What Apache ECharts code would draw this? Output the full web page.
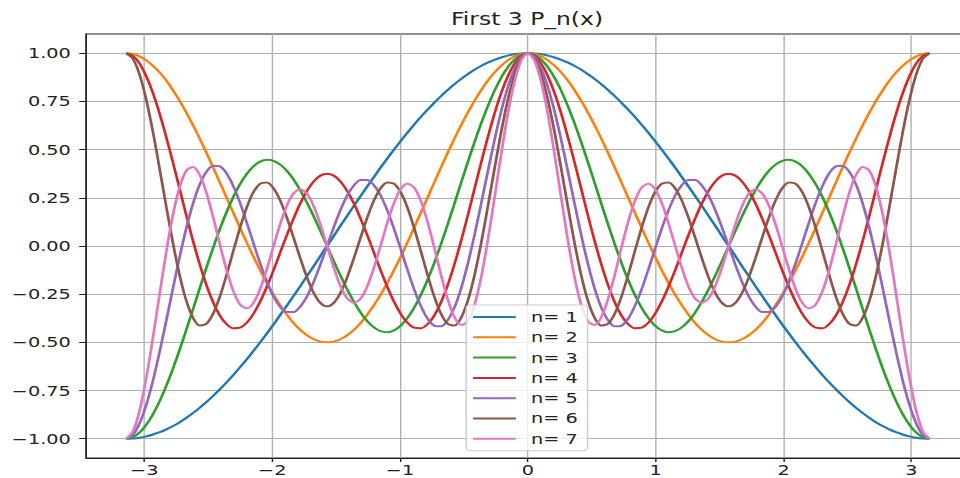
<!DOCTYPE html>
<html>
<head>
<meta charset="utf-8">
<script src="https://cdn.jsdelivr.net/npm/echarts@6/dist/echarts.min.js"></script>
<style>
  html, body { margin: 0; padding: 0; background: #fff; overflow: hidden; width: 960px; height: 478px; }
  /* the reference picture is stretched sideways, so draw narrow and stretch */
  #main { width: 703px; height: 478px; transform: scaleX(1.37931); transform-origin: 0 0; }
</style>
</head>
<body>
<div id="main"></div>
<script>
// x = -pi .. pi
var xValues = [
  -3.1416, -3.0892, -3.0369, -2.9845, -2.9322, -2.8798, -2.8274, -2.7751, -2.7227, -2.6704,
  -2.6180, -2.5656, -2.5133, -2.4609, -2.4086, -2.3562, -2.3038, -2.2515, -2.1991, -2.1468,
  -2.0944, -2.0420, -1.9897, -1.9373, -1.8850, -1.8326, -1.7802, -1.7279, -1.6755, -1.6232,
  -1.5708, -1.5184, -1.4661, -1.4137, -1.3614, -1.3090, -1.2566, -1.2043, -1.1519, -1.0996,
  -1.0472, -0.9948, -0.9425, -0.8901, -0.8378, -0.7854, -0.7330, -0.6807, -0.6283, -0.5760,
  -0.5236, -0.4712, -0.4189, -0.3665, -0.3142, -0.2618, -0.2094, -0.1571, -0.1047, -0.0524,
  0, 0.0524, 0.1047, 0.1571, 0.2094, 0.2618, 0.3142, 0.3665, 0.4189, 0.4712,
  0.5236, 0.5760, 0.6283, 0.6807, 0.7330, 0.7854, 0.8378, 0.8901, 0.9425, 0.9948,
  1.0472, 1.0996, 1.1519, 1.2043, 1.2566, 1.3090, 1.3614, 1.4137, 1.4661, 1.5184,
  1.5708, 1.6232, 1.6755, 1.7279, 1.7802, 1.8326, 1.8850, 1.9373, 1.9897, 2.0420,
  2.0944, 2.1468, 2.1991, 2.2515, 2.3038, 2.3562, 2.4086, 2.4609, 2.5133, 2.5656,
  2.6180, 2.6704, 2.7227, 2.7751, 2.8274, 2.8798, 2.9322, 2.9845, 3.0369, 3.0892, 3.1416
];

var p1 = [
  -1, -0.999, -0.995, -0.988, -0.978, -0.966, -0.951, -0.934, -0.914, -0.891, -0.866, -0.839, -0.809, -0.777, -0.743, -0.707, -0.669, -0.629, -0.588, -0.545, -0.5, -0.454, -0.407, -0.358, -0.309, -0.259, -0.208, -0.156, -0.105, -0.052,
  0, 0.052, 0.105, 0.156, 0.208, 0.259, 0.309, 0.358, 0.407, 0.454, 0.5, 0.545, 0.588, 0.629, 0.669, 0.707, 0.743, 0.777, 0.809, 0.839, 0.866, 0.891, 0.914, 0.934, 0.951, 0.966, 0.978, 0.988, 0.995, 0.999,
  1, 0.999, 0.995, 0.988, 0.978, 0.966, 0.951, 0.934, 0.914, 0.891, 0.866, 0.839, 0.809, 0.777, 0.743, 0.707, 0.669, 0.629, 0.588, 0.545, 0.5, 0.454, 0.407, 0.358, 0.309, 0.259, 0.208, 0.156, 0.105, 0.052,
  0, -0.052, -0.105, -0.156, -0.208, -0.259, -0.309, -0.358, -0.407, -0.454, -0.5, -0.545, -0.588, -0.629, -0.669, -0.707, -0.743, -0.777, -0.809, -0.839, -0.866, -0.891, -0.914, -0.934, -0.951, -0.966, -0.978, -0.988, -0.995, -0.999, -1
];
var p2 = [
  1, 0.996, 0.984, 0.963, 0.935, 0.900, 0.857, 0.807, 0.752, 0.691, 0.625, 0.555, 0.482, 0.406, 0.328, 0.25, 0.172, 0.094, 0.018, -0.055, -0.125, -0.191, -0.252, -0.307, -0.357, -0.400, -0.435, -0.463, -0.484, -0.496,
  -0.5, -0.496, -0.484, -0.463, -0.435, -0.400, -0.357, -0.307, -0.252, -0.191, -0.125, -0.055, 0.018, 0.094, 0.172, 0.25, 0.328, 0.406, 0.482, 0.555, 0.625, 0.691, 0.752, 0.807, 0.857, 0.900, 0.935, 0.963, 0.984, 0.996,
  1, 0.996, 0.984, 0.963, 0.935, 0.900, 0.857, 0.807, 0.752, 0.691, 0.625, 0.555, 0.482, 0.406, 0.328, 0.25, 0.172, 0.094, 0.018, -0.055, -0.125, -0.191, -0.252, -0.307, -0.357, -0.400, -0.435, -0.463, -0.484, -0.496,
  -0.5, -0.496, -0.484, -0.463, -0.435, -0.400, -0.357, -0.307, -0.252, -0.191, -0.125, -0.055, 0.018, 0.094, 0.172, 0.25, 0.328, 0.406, 0.482, 0.555, 0.625, 0.691, 0.752, 0.807, 0.857, 0.900, 0.935, 0.963, 0.984, 0.996, 1
];
var p3 = [
  -1, -0.992, -0.967, -0.927, -0.872, -0.804, -0.724, -0.634, -0.536, -0.432, -0.325, -0.217, -0.110, -0.008, 0.089, 0.177, 0.255, 0.321, 0.374, 0.413, 0.438, 0.447, 0.442, 0.422, 0.390, 0.345, 0.289, 0.225, 0.154, 0.078,
  0, -0.078, -0.154, -0.225, -0.289, -0.345, -0.390, -0.422, -0.442, -0.447, -0.438, -0.413, -0.374, -0.321, -0.255, -0.177, -0.089, 0.008, 0.110, 0.217, 0.325, 0.432, 0.536, 0.634, 0.724, 0.804, 0.872, 0.927, 0.967, 0.992,
  1, 0.992, 0.967, 0.927, 0.872, 0.804, 0.724, 0.634, 0.536, 0.432, 0.325, 0.217, 0.110, 0.008, -0.089, -0.177, -0.255, -0.321, -0.374, -0.413, -0.438, -0.447, -0.442, -0.422, -0.390, -0.345, -0.289, -0.225, -0.154, -0.078,
  0, 0.078, 0.154, 0.225, 0.289, 0.345, 0.390, 0.422, 0.442, 0.447, 0.438, 0.413, 0.374, 0.321, 0.255, 0.177, 0.089, -0.008, -0.110, -0.217, -0.325, -0.432, -0.536, -0.634, -0.724, -0.804, -0.872, -0.927, -0.967, -0.992, -1
];
var p4 = [
  1, 0.986, 0.946, 0.880, 0.792, 0.685, 0.562, 0.430, 0.293, 0.155, 0.023, -0.098, -0.205, -0.294, -0.362, -0.406, -0.427, -0.424, -0.398, -0.352, -0.289, -0.212, -0.126, -0.034, 0.057, 0.143, 0.221, 0.286, 0.335, 0.365,
  0.375, 0.365, 0.335, 0.286, 0.221, 0.143, 0.057, -0.034, -0.126, -0.212, -0.289, -0.352, -0.398, -0.424, -0.427, -0.406, -0.362, -0.294, -0.205, -0.098, 0.023, 0.155, 0.293, 0.430, 0.562, 0.685, 0.792, 0.880, 0.946, 0.986,
  1, 0.986, 0.946, 0.880, 0.792, 0.685, 0.562, 0.430, 0.293, 0.155, 0.023, -0.098, -0.205, -0.294, -0.362, -0.406, -0.427, -0.424, -0.398, -0.352, -0.289, -0.212, -0.126, -0.034, 0.057, 0.143, 0.221, 0.286, 0.335, 0.365,
  0.375, 0.365, 0.335, 0.286, 0.221, 0.143, 0.057, -0.034, -0.126, -0.212, -0.289, -0.352, -0.398, -0.424, -0.427, -0.406, -0.362, -0.294, -0.205, -0.098, 0.023, 0.155, 0.293, 0.430, 0.562, 0.685, 0.792, 0.880, 0.946, 0.986, 1
];
var p5 = [
  -1, -0.980, -0.919, -0.823, -0.697, -0.547, -0.384, -0.216, -0.053, 0.096, 0.223, 0.322, 0.387, 0.417, 0.413, 0.376, 0.310, 0.224, 0.122, 0.015, -0.090, -0.184, -0.262, -0.316, -0.343, -0.343, -0.314, -0.261, -0.186, -0.097,
  0, 0.097, 0.186, 0.261, 0.314, 0.343, 0.343, 0.316, 0.262, 0.184, 0.090, -0.015, -0.122, -0.224, -0.310, -0.376, -0.413, -0.417, -0.387, -0.322, -0.223, -0.096, 0.053, 0.216, 0.384, 0.547, 0.697, 0.823, 0.919, 0.980,
  1, 0.980, 0.919, 0.823, 0.697, 0.547, 0.384, 0.216, 0.053, -0.096, -0.223, -0.322, -0.387, -0.417, -0.413, -0.376, -0.310, -0.224, -0.122, -0.015, 0.090, 0.184, 0.262, 0.316, 0.343, 0.343, 0.314, 0.261, 0.186, 0.097,
  0, -0.097, -0.186, -0.261, -0.314, -0.343, -0.343, -0.316, -0.262, -0.184, -0.090, 0.015, 0.122, 0.224, 0.310, 0.376, 0.413, 0.417, 0.387, 0.322, 0.223, 0.096, -0.053, -0.216, -0.384, -0.547, -0.697, -0.823, -0.919, -0.980, -1
];
var p6 = [
  1, 0.971, 0.888, 0.757, 0.589, 0.398, 0.200, 0.011, -0.156, -0.287, -0.374, -0.413, -0.403, -0.350, -0.261, -0.148, -0.025, 0.095, 0.200, 0.279, 0.323, 0.330, 0.300, 0.236, 0.147, 0.043, -0.064, -0.163, -0.243, -0.295,
  -0.313, -0.295, -0.243, -0.163, -0.064, 0.043, 0.147, 0.236, 0.300, 0.330, 0.323, 0.279, 0.200, 0.095, -0.025, -0.148, -0.261, -0.350, -0.403, -0.413, -0.374, -0.287, -0.156, 0.011, 0.200, 0.398, 0.589, 0.757, 0.888, 0.971,
  1, 0.971, 0.888, 0.757, 0.589, 0.398, 0.200, 0.011, -0.156, -0.287, -0.374, -0.413, -0.403, -0.350, -0.261, -0.148, -0.025, 0.095, 0.200, 0.279, 0.323, 0.330, 0.300, 0.236, 0.147, 0.043, -0.064, -0.163, -0.243, -0.295,
  -0.313, -0.295, -0.243, -0.163, -0.064, 0.043, 0.147, 0.236, 0.300, 0.330, 0.323, 0.279, 0.200, 0.095, -0.025, -0.148, -0.261, -0.350, -0.403, -0.413, -0.374, -0.287, -0.156, 0.011, 0.200, 0.398, 0.589, 0.757, 0.888, 0.971, 1
];
var p7 = [
  -1, -0.962, -0.852, -0.683, -0.473, -0.246, -0.025, 0.166, 0.309, 0.392, 0.410, 0.367, 0.274, 0.147, 0.006, -0.127, -0.235, -0.303, -0.323, -0.295, -0.223, -0.120, -0.002, 0.113, 0.210, 0.273, 0.294, 0.271, 0.207, 0.112,
  0, -0.112, -0.207, -0.271, -0.294, -0.273, -0.210, -0.113, 0.002, 0.120, 0.223, 0.295, 0.323, 0.303, 0.235, 0.127, -0.006, -0.147, -0.274, -0.367, -0.410, -0.392, -0.309, -0.166, 0.025, 0.246, 0.473, 0.683, 0.852, 0.962,
  1, 0.962, 0.852, 0.683, 0.473, 0.246, 0.025, -0.166, -0.309, -0.392, -0.410, -0.367, -0.274, -0.147, -0.006, 0.127, 0.235, 0.303, 0.323, 0.295, 0.223, 0.120, 0.002, -0.113, -0.210, -0.273, -0.294, -0.271, -0.207, -0.112,
  0, 0.112, 0.207, 0.271, 0.294, 0.273, 0.210, 0.113, -0.002, -0.120, -0.223, -0.295, -0.323, -0.303, -0.235, -0.127, 0.006, 0.147, 0.274, 0.367, 0.410, 0.392, 0.309, 0.166, -0.025, -0.246, -0.473, -0.683, -0.852, -0.962, -1
];

var seriesNames = ["n= 1", "n= 2", "n= 3", "n= 4", "n= 5", "n= 6", "n= 7"];
var xTicks = [-3, -2, -1, 0, 1, 2, 3];
var yTicks = [-1, -0.75, -0.5, -0.25, 0, 0.25, 0.5, 0.75, 1];
var colors = ["#1f77b4", "#ff7f0e", "#2ca02c", "#d62728", "#9467bd", "#8c564b", "#e377c2"];

(function () {
  var myChart = echarts.init(document.getElementById("main"), null, { renderer: "svg" });
  var allY = [p1, p2, p3, p4, p5, p6, p7];
  var font = "DejaVu Sans";

  var minusSign = function (s) { return String(s).replace("-", "\u2212"); };

  var series = allY.map(function (ys, i) {
    return {
      name: seriesNames[i],
      type: "line",
      smooth: 0.3,
      symbol: "none",
      color: colors[i],
      lineStyle: { width: 2, color: colors[i] },
      data: ys.map(function (y, j) { return [xValues[j], y]; })
    };
  });

  var option = {
    animation: false,
    color: colors,
    title: {
      text: "First 3 P_n(x)",
      left: 327,
      top: 11,
      padding: 0,
      textStyle: { fontFamily: font, fontSize: 17, fontWeight: "normal", color: "#222" }
    },
    legend: {
      orient: "vertical",
      left: 338,
      top: 305,
      padding: [5, 7, 5, 5],
      icon: "rect",
      itemWidth: 31,
      itemHeight: 2,
      itemGap: 6.3,
      backgroundColor: "rgba(255,255,255,0.8)",
      borderColor: "#cccccc",
      borderWidth: 1,
      borderRadius: 3,
      textStyle: { fontFamily: font, fontSize: 14, lineHeight: 14, color: "#222", padding: [0, 0, 0, 6] },
      data: seriesNames
    },
    grid: {
      left: 62.4,
      top: 34,
      right: 0,
      height: 424,
      show: true,
      borderColor: "#222",
      borderWidth: 1
    },
    xAxis: {
      type: "value",
      min: -3.456,
      max: 3.456,
      axisLine: { onZero: false, lineStyle: { color: "#222", width: 1 } },
      axisTick: { show: true, length: 4, customValues: xTicks, lineStyle: { color: "#222" } },
      axisLabel: {
        customValues: xTicks,
        margin: 5,
        fontFamily: font,
        fontSize: 14,
        color: "#222",
        formatter: function (v) { return minusSign(v); }
      },
      splitLine: { show: true, lineStyle: { color: "#b0b0b0", width: 1 } }
    },
    yAxis: {
      type: "value",
      min: -1.1,
      max: 1.1,
      axisLine: { onZero: false, lineStyle: { color: "#222", width: 1 } },
      axisTick: { show: true, length: 5, customValues: yTicks, lineStyle: { color: "#222" } },
      axisLabel: {
        customValues: yTicks,
        margin: 11,
        fontFamily: font,
        fontSize: 14,
        color: "#222",
        formatter: function (v) { return minusSign(v.toFixed(2)); }
      },
      splitLine: { show: true, lineStyle: { color: "#b0b0b0", width: 1 } }
    },
    series: series
  };

  myChart.setOption(option);
})();
</script>
</body>
</html>
